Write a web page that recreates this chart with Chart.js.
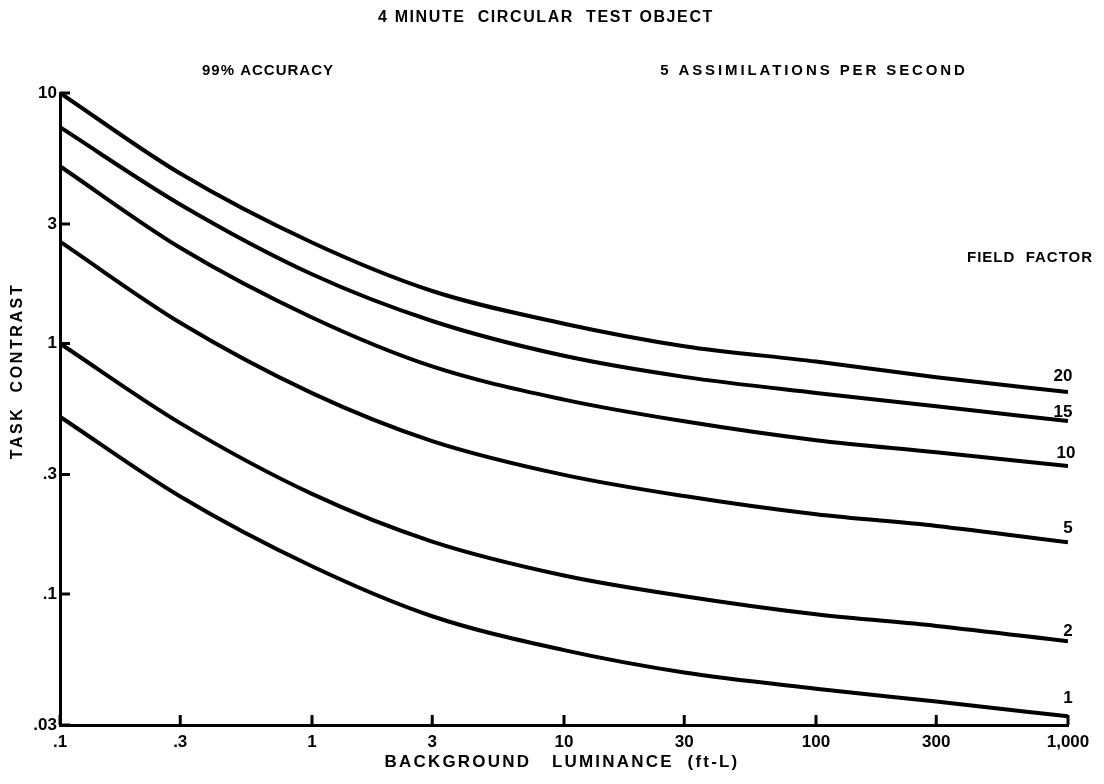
<!DOCTYPE html>
<html>
<head>
<meta charset="utf-8">
<script src="https://cdn.jsdelivr.net/npm/chart.js@4/dist/chart.umd.min.js"></script>
<style>
  body { margin: 0; background: #fff; }
  #wrap { width: 1104px; height: 784px; }
</style>
</head>
<body>
<div id="wrap"><canvas id="chart" width="1104" height="784"></canvas></div>
<script>
// background luminance (ft-L)
var luminance = [0.1, 0.3, 1, 3, 10, 30, 100, 300, 1000];

// task contrast for each field factor
var ff20 = [10, 4.77, 2.53, 1.62, 1.2, 0.976, 0.847, 0.733, 0.64];
var ff15 = [7.3, 3.59, 1.89, 1.23, 0.893, 0.736, 0.635, 0.562, 0.49];
var ff10 = [5.1, 2.41, 1.27, 0.81, 0.597, 0.489, 0.411, 0.368, 0.324];
var ff5  = [2.55, 1.21, 0.634, 0.408, 0.299, 0.246, 0.208, 0.187, 0.161];
var ff2  = [1.0, 0.481, 0.251, 0.162, 0.1186, 0.098, 0.083, 0.0746, 0.0648];
var ff1  = [0.51, 0.245, 0.129, 0.0815, 0.0597, 0.0486, 0.0419, 0.0372, 0.0325];

var fieldFactors = ['20', '15', '10', '5', '2', '1'];
var seriesList = [ff20, ff15, ff10, ff5, ff2, ff1];

// tick labels
var xTickValues = [0.1, 0.3, 1, 3, 10, 30, 100, 300, 1000];
var xTickLabels = ['.1', '.3', '1', '3', '10', '30', '100', '300', '1,000'];
var yTickValues = [0.03, 0.1, 0.3, 1, 3, 10];
var yTickLabels = ['.03', '.1', '.3', '1', '3', '10'];

var FONT = '"Liberation Sans", Arial, sans-serif';

function toPoints(ys) {
    return luminance.map(function(x, i) { return { x: x, y: ys[i] }; });
}

var datasets = seriesList.map(function(ys, i) {
    return {
        label: 'Field factor ' + fieldFactors[i],
        data: toPoints(ys),
        borderColor: '#000',
        borderWidth: 4,
        pointRadius: 0,
        fill: false,
        cubicInterpolationMode: 'monotone'
    };
});

function spacedText(ctx, text, x, y, spacing) {
    ctx.letterSpacing = spacing + 'px';
    ctx.fillText(text, x, y);
}

// small inward ticks plus the free-standing texts
var decorations = {
    id: 'decorations',
    afterDatasetsDraw: function(chart) {
        var ctx = chart.ctx;
        var xs = chart.scales.x, ys = chart.scales.y;
        var area = chart.chartArea;
        ctx.save();
        ctx.strokeStyle = '#000';
        ctx.lineWidth = 3;
        xTickValues.forEach(function(v) {
            var px = xs.getPixelForValue(v);
            ctx.beginPath();
            ctx.moveTo(px, area.bottom);
            ctx.lineTo(px, area.bottom - 10);
            ctx.stroke();
        });
        yTickValues.forEach(function(v) {
            var py = ys.getPixelForValue(v);
            ctx.beginPath();
            ctx.moveTo(area.left, py);
            ctx.lineTo(area.left + 10, py);
            ctx.stroke();
        });

        ctx.fillStyle = '#000';
        ctx.textBaseline = 'middle';
        ctx.textAlign = 'center';
        ctx.font = 'bold 16px ' + FONT;
        spacedText(ctx, '4 MINUTE  CIRCULAR  TEST OBJECT', 546, 18, 1.6);
        ctx.font = 'bold 15px ' + FONT;
        spacedText(ctx, '99% ACCURACY', 268, 71, 1);
        spacedText(ctx, '5 ASSIMILATIONS PER SECOND', 814, 71, 2.9);
        spacedText(ctx, 'FIELD  FACTOR', 1030, 258, 1);

        // x axis title
        ctx.font = 'bold 17px ' + FONT;
        spacedText(ctx, 'BACKGROUND   LUMINANCE  (ft-L)', 562, 762, 2.2);

        // curve labels at the right end
        ctx.font = 'bold 17px ' + FONT;
        ctx.letterSpacing = '0px';
        var last = luminance.length - 1;
        var offsets = [-16, -9, -13, -14, -10, -18];
        var shifts = [-5, -5, -2, 0, 0, 0];
        seriesList.forEach(function(ys2, i) {
            var px = xs.getPixelForValue(luminance[last]);
            var py = ys.getPixelForValue(ys2[last]);
            ctx.fillText(fieldFactors[i], px + shifts[i], py + offsets[i]);
        });

        // y axis title
        ctx.save();
        ctx.translate(18, 371);
        ctx.rotate(-Math.PI / 2);
        ctx.font = 'bold 16px ' + FONT;
        spacedText(ctx, 'TASK  CONTRAST', 0, 0, 2.6);
        ctx.restore();
        ctx.restore();
    }
};

var config = {
    type: 'line',
    data: { datasets: datasets },
    options: {
        responsive: false,
        animation: false,
        layout: { padding: { left: 0, right: 36, top: 93, bottom: 0 } },
        plugins: {
            legend: { display: false },
            tooltip: { enabled: false }
        },
        scales: {
            x: {
                type: 'logarithmic',
                min: 0.1,
                max: 1000,
                afterBuildTicks: function(scale) {
                    scale.ticks = xTickValues.map(function(v) { return { value: v }; });
                },
                afterFit: function(scale) { scale.height = 59; },
                grid: { drawOnChartArea: false, drawTicks: false },
                border: { color: '#000', width: 3 },
                ticks: {
                    color: '#000',
                    padding: 7,
                    maxRotation: 0,
                    autoSkip: false,
                    font: { family: FONT, size: 17, weight: 'bold' },
                    callback: function(value, index) { return xTickLabels[index]; }
                }
            },
            y: {
                type: 'logarithmic',
                min: 0.03,
                max: 10,
                afterBuildTicks: function(scale) {
                    scale.ticks = yTickValues.map(function(v) { return { value: v }; });
                },
                afterFit: function(scale) { scale.width = 60; },
                grid: { drawOnChartArea: false, drawTicks: false },
                border: { color: '#000', width: 3 },
                ticks: {
                    color: '#000',
                    padding: 3,
                    autoSkip: false,
                    font: { family: FONT, size: 17, weight: 'bold' },
                    callback: function(value, index) { return yTickLabels[index]; }
                }
            }
        }
    },
    plugins: [decorations]
};

var ctx = document.getElementById('chart').getContext('2d');
var contrastChart = new Chart(ctx, config);
</script>
</body>
</html>
